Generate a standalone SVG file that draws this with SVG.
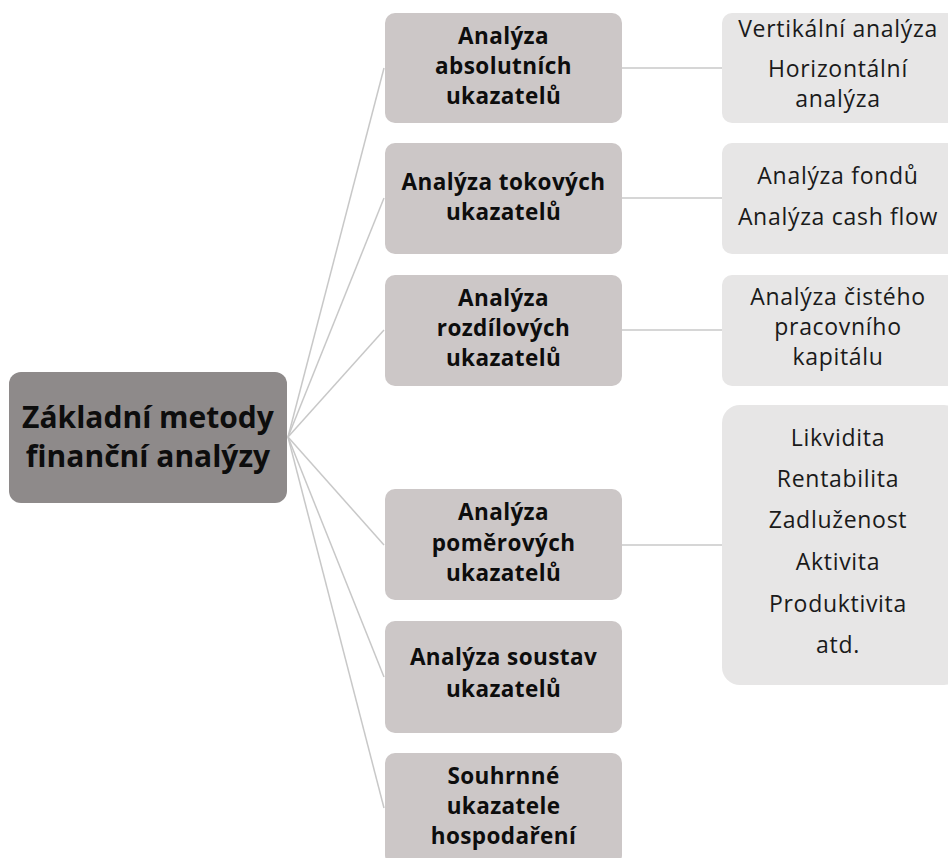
<svg xmlns="http://www.w3.org/2000/svg" width="948" height="858" viewBox="0 0 948 858">
<style>
.root{fill:#8e8a8a}
.mid{fill:#ccc7c7}
.leaf{fill:#e7e6e6}
.conn{stroke:#c8c8c8;stroke-width:1.5;fill:none}
text{font-family:"Open Sans","Noto Sans","DejaVu Sans",sans-serif;fill:#0d0d0d;text-anchor:middle}
.t0{font-size:30px;font-weight:bold}
.t1{font-size:22.5px;font-weight:bold;letter-spacing:0.4px}
.t2{font-size:23px;letter-spacing:0.7px;fill:#1a1a1a}
</style>
<rect width="948" height="858" fill="#ffffff"/>
<g id="connectors">
<line class="conn" x1="288" y1="437" x2="384" y2="68"/>
<line class="conn" x1="288" y1="437" x2="384" y2="198"/>
<line class="conn" x1="288" y1="437" x2="384" y2="330"/>
<line class="conn" x1="288" y1="437" x2="384" y2="545"/>
<line class="conn" x1="288" y1="437" x2="384" y2="677"/>
<line class="conn" x1="288" y1="437" x2="384" y2="808"/>
<line class="conn" x1="622" y1="68" x2="722" y2="68"/>
<line class="conn" x1="622" y1="198" x2="722" y2="198"/>
<line class="conn" x1="622" y1="330" x2="722" y2="330"/>
<line class="conn" x1="622" y1="545" x2="722" y2="545"/>
</g>
<g id="root">
<rect class="root" x="9" y="372" width="278" height="131" rx="12"/>
<text class="t0" x="148" y="428">Základní metody</text>
<text class="t0" x="148" y="467">finanční analýzy</text>
</g>
<g id="n1">
<rect class="mid" x="385" y="13" width="237" height="110" rx="10"/>
<text class="t1" x="503.5" y="44">Analýza</text>
<text class="t1" x="503.5" y="74">absolutních</text>
<text class="t1" x="503.5" y="104">ukazatelů</text>
</g>
<g id="n2">
<rect class="mid" x="385" y="143" width="237" height="111" rx="10"/>
<text class="t1" x="503.5" y="190">Analýza tokových</text>
<text class="t1" x="503.5" y="220">ukazatelů</text>
</g>
<g id="n3">
<rect class="mid" x="385" y="275" width="237" height="111" rx="10"/>
<text class="t1" x="503.5" y="306">Analýza</text>
<text class="t1" x="503.5" y="336">rozdílových</text>
<text class="t1" x="503.5" y="366">ukazatelů</text>
</g>
<g id="n4">
<rect class="mid" x="385" y="489" width="237" height="111" rx="10"/>
<text class="t1" x="503.5" y="520">Analýza</text>
<text class="t1" x="503.5" y="551">poměrových</text>
<text class="t1" x="503.5" y="581">ukazatelů</text>
</g>
<g id="n5">
<rect class="mid" x="385" y="621" width="237" height="112" rx="10"/>
<text class="t1" x="503.5" y="665">Analýza soustav</text>
<text class="t1" x="503.5" y="697">ukazatelů</text>
</g>
<g id="n6">
<rect class="mid" x="385" y="753" width="237" height="112" rx="10"/>
<text class="t1" x="503.5" y="784">Souhrnné</text>
<text class="t1" x="503.5" y="814">ukazatele</text>
<text class="t1" x="503.5" y="844">hospodaření</text>
</g>
<g id="r1">
<rect class="leaf" x="722" y="13" width="240" height="110" rx="10"/>
<text class="t2" x="838" y="37">Vertikální analýza</text>
<text class="t2" x="838" y="77">Horizontální</text>
<text class="t2" x="838" y="107">analýza</text>
</g>
<g id="r2">
<rect class="leaf" x="722" y="143" width="240" height="111" rx="10"/>
<text class="t2" x="838" y="184">Analýza fondů</text>
<text class="t2" x="838" y="225">Analýza cash flow</text>
</g>
<g id="r3">
<rect class="leaf" x="722" y="275" width="240" height="111" rx="10"/>
<text class="t2" x="838" y="305">Analýza čistého</text>
<text class="t2" x="838" y="335">pracovního</text>
<text class="t2" x="838" y="365">kapitálu</text>
</g>
<g id="r4">
<rect class="leaf" x="722" y="405" width="240" height="280" rx="18"/>
<text class="t2" x="838" y="446">Likvidita</text>
<text class="t2" x="838" y="487">Rentabilita</text>
<text class="t2" x="838" y="528">Zadluženost</text>
<text class="t2" x="838" y="570">Aktivita</text>
<text class="t2" x="838" y="612">Produktivita</text>
<text class="t2" x="838" y="653">atd.</text>
</g>
</svg>
